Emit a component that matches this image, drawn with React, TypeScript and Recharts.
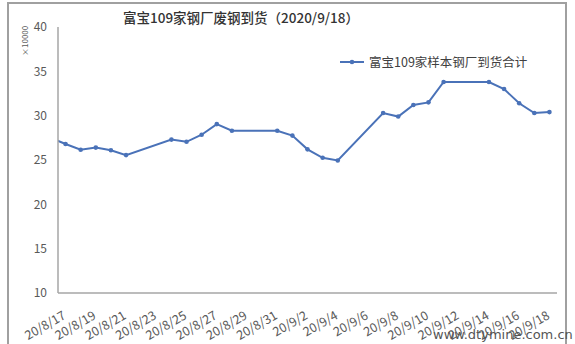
import { Line, LineChart, XAxis, YAxis } from "recharts";

const FONT = '"Noto Sans CJK SC", "Noto Sans", sans-serif';
const LINE_COLOR = "#4a72b8";
const TEXT_COLOR = "#595959";

const TITLE = "富宝109家钢厂废钢到货（2020/9/18）";
const SERIES_NAME = "富宝109家样本钢厂到货合计";
const UNIT_LABEL = "×10000";

// working days only; 2020-08-14 sits left of the axis and is clipped
const DATES = [
  "2020-08-14",
  "2020-08-17", "2020-08-18", "2020-08-19", "2020-08-20", "2020-08-21",
  "2020-08-24", "2020-08-25", "2020-08-26", "2020-08-27", "2020-08-28",
  "2020-08-31", "2020-09-01", "2020-09-02", "2020-09-03", "2020-09-04",
  "2020-09-07", "2020-09-08", "2020-09-09", "2020-09-10", "2020-09-11",
  "2020-09-14", "2020-09-15", "2020-09-16", "2020-09-17", "2020-09-18",
];
const ARRIVALS = [
  29.0,
  26.8, 26.15, 26.4, 26.1, 25.55,
  27.3, 27.05, 27.85, 29.05, 28.3,
  28.3, 27.75, 26.2, 25.25, 24.95,
  30.3, 29.9, 31.2, 31.5, 33.8,
  33.8, 33.0, 31.4, 30.3, 30.4,
];

const TICK_DATES = [
  "2020-08-17", "2020-08-19", "2020-08-21", "2020-08-23", "2020-08-25",
  "2020-08-27", "2020-08-29", "2020-08-31", "2020-09-02", "2020-09-04",
  "2020-09-06", "2020-09-08", "2020-09-10", "2020-09-12", "2020-09-14",
  "2020-09-16", "2020-09-18",
];
const TICK_LABELS = [
  "20/8/17", "20/8/19", "20/8/21", "20/8/23", "20/8/25", "20/8/27",
  "20/8/29", "20/8/31", "20/9/2", "20/9/4", "20/9/6", "20/9/8",
  "20/9/10", "20/9/12", "20/9/14", "20/9/16", "20/9/18",
];
const Y_TICKS = [10, 15, 20, 25, 30, 35, 40];

const DAY = 86400000;
const toDay = (d: string) =>
  Math.round((Date.parse(d) - Date.parse(TICK_DATES[0])) / DAY);

const TICK_DAYS = TICK_DATES.map(toDay);
const LAST_DAY = TICK_DAYS[TICK_DAYS.length - 1];

const data = DATES.map((d, i) => ({ day: toDay(d), value: ARRIVALS[i] }));

function DateTick(props: any) {
  const { x, y, index } = props;
  return (
    <g transform={`translate(${x + 1},${y + 17})`}>
      <text
        transform="rotate(-30)"
        textAnchor="end"
        fontSize={12.5}
        fontFamily={FONT}
        fill={TEXT_COLOR}
      >
        {TICK_LABELS[index]}
      </text>
    </g>
  );
}

function Dot(props: any) {
  const { cx, cy } = props;
  if (cx == null || cy == null) return null;
  return <circle cx={cx} cy={cy} r={2.3} fill={LINE_COLOR} />;
}

export default function App() {
  return (
    <div
      style={{
        position: "absolute",
        left: 0,
        top: 0,
        width: 575,
        height: 344,
        background: "#fff",
        overflow: "hidden",
        fontFamily: FONT,
      }}
    >
      <div
        style={{
          position: "absolute",
          left: 7,
          top: 2,
          width: 560,
          height: 400,
          border: "2px solid #a0a0a0",
          boxSizing: "border-box",
        }}
      />
      <div
        style={{
          position: "absolute",
          left: 0,
          width: 482,
          top: 7,
          textAlign: "center",
          fontSize: 13.5,
          fontWeight: 500,
          color: "#333",
        }}
      >
        {TITLE}
      </div>
      <div
        style={{
          position: "absolute",
          left: 10,
          top: 36,
          width: 30,
          height: 10,
          fontSize: 8,
          lineHeight: "10px",
          color: TEXT_COLOR,
          transform: "rotate(-90deg)",
          textAlign: "center",
        }}
      >
        {UNIT_LABEL}
      </div>
      <div
        style={{
          position: "absolute",
          left: 340,
          top: 52,
          display: "flex",
          alignItems: "center",
          fontSize: 12.5,
          color: "#404040",
          whiteSpace: "nowrap",
        }}
      >
        <svg width={24} height={10} style={{ marginRight: 5 }}>
          <line x1={0} y1={5} x2={24} y2={5} stroke={LINE_COLOR} strokeWidth={2} />
          <circle cx={12} cy={5} r={2.3} fill={LINE_COLOR} />
        </svg>
        {SERIES_NAME}
      </div>
      <div style={{ position: "absolute", left: 0, top: 0 }}>
        <LineChart
          width={575}
          height={344}
          data={data}
          margin={{ top: 27, right: 18, bottom: 0, left: 0 }}
        >
          <XAxis
            type="number"
            dataKey="day"
            domain={[-0.5, LAST_DAY + 0.5]}
            ticks={TICK_DAYS}
            interval={0}
            allowDataOverflow
            tickLine={false}
            axisLine={{ stroke: "#a6a6a6", strokeWidth: 1.5 }}
            height={51}
            tick={<DateTick />}
          />
          <YAxis
            domain={[10, 40]}
            ticks={Y_TICKS}
            interval={0}
            width={58}
            tickLine={false}
            tickSize={0}
            tickMargin={11}
            axisLine={{ stroke: "#a6a6a6", strokeWidth: 1.5 }}
            tick={{ fontSize: 12, fill: TEXT_COLOR, fontFamily: FONT }}
          />
          <Line
            type="linear"
            dataKey="value"
            stroke={LINE_COLOR}
            strokeWidth={2}
            dot={<Dot />}
            activeDot={false}
            isAnimationActive={false}
          />
        </LineChart>
      </div>
      <div
        style={{
          position: "absolute",
          left: 433,
          top: 327,
          fontSize: 13,
          color: "#555",
          fontFamily: '"DejaVu Sans", sans-serif',
          whiteSpace: "nowrap",
        }}
      >
        www.dtymine.com.cn
      </div>
    </div>
  );
}
